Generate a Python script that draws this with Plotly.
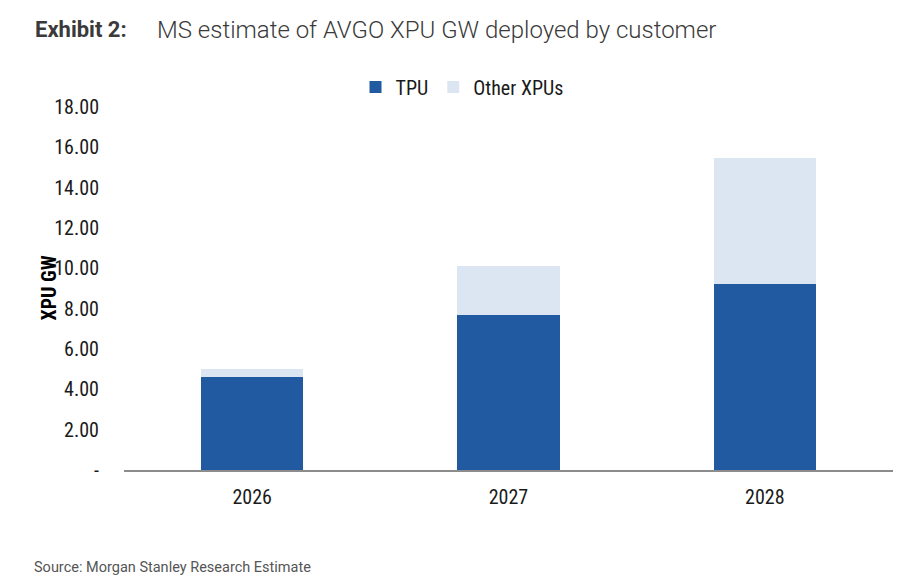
import plotly.graph_objects as go

years = ["2026", "2027", "2028"]
tpu = [4.6, 7.7, 9.2]
other = [0.4, 2.4, 6.25]
tick_vals = [0, 2, 4, 6, 8, 10, 12, 14, 16, 18]
tick_text = ["-", "2.00", "4.00", "6.00", "8.00", "10.00", "12.00", "14.00", "16.00", "18.00"]

FONT = "Roboto Condensed, Liberation Sans Narrow, Roboto, sans-serif"

L, R, T, B = 124, 17, 107, 110
W, H = 910, 580


def px_x(px):
    return (px - L) / (W - L - R)


def px_y(py):
    return (H - B - py) / (H - T - B)


fig = go.Figure()
fig.add_trace(go.Bar(x=years, y=tpu, name="TPU",
                     marker=dict(color="#215AA0", line=dict(width=0)), width=0.4))
fig.add_trace(go.Bar(x=years, y=other, name="Other XPUs",
                     marker=dict(color="#DCE6F2", line=dict(width=0)), width=0.4))

fig.update_layout(
    barmode="stack",
    width=W, height=H,
    margin=dict(l=L, r=R, t=T, b=B),
    paper_bgcolor="white", plot_bgcolor="white",
    font=dict(family=FONT, size=20, color="#1a1a1a"),
    legend=dict(orientation="h", x=px_x(462), y=px_y(87), xanchor="center", yanchor="middle",
                font=dict(family=FONT, size=20, color="#1a1a1a"), itemwidth=30,
                traceorder="normal"),
    xaxis=dict(showgrid=False, showline=True, linecolor="#8c8c8c", linewidth=2,
               ticks="", tickfont=dict(family=FONT, size=20, color="#1a1a1a"),
               ticklabelstandoff=8),
    yaxis=dict(range=[0, 18], tickvals=tick_vals, ticktext=tick_text, showgrid=False,
               zeroline=False, showline=False, ticks="", ticklabelstandoff=24,
               tickfont=dict(family=FONT, size=20, color="#1a1a1a")),
)

fig.add_annotation(text="<b>XPU GW</b>", textangle=-90, x=px_x(48), y=0.5,
                   xref="paper", yref="paper", xanchor="center", yanchor="middle",
                   showarrow=False, font=dict(family=FONT, size=20, color="#000000"))
fig.add_annotation(text="<b>Exhibit 2:</b>", x=px_x(33), y=px_y(30), xref="paper", yref="paper",
                   xanchor="left", yanchor="middle", showarrow=False,
                   font=dict(family="Roboto, sans-serif", size=22, color="#3a3a3a"))
fig.add_annotation(text="MS estimate of AVGO XPU GW deployed by customer", x=px_x(155), y=px_y(30),
                   xref="paper", yref="paper", xanchor="left", yanchor="middle", showarrow=False,
                   font=dict(family="Roboto Light, Roboto, sans-serif", size=24, color="#3a3a3a"))
fig.add_annotation(text="Source: Morgan Stanley Research Estimate", x=px_x(32), y=px_y(567),
                   xref="paper", yref="paper", xanchor="left", yanchor="middle", showarrow=False,
                   font=dict(family="Roboto, sans-serif", size=14.5, color="#555555"))

fig.write_html("out.html")
